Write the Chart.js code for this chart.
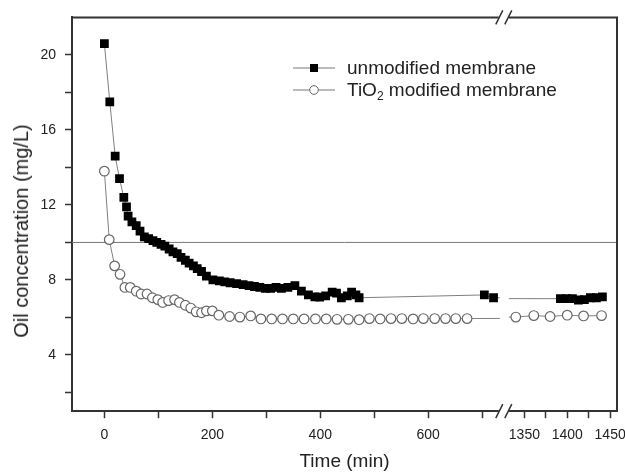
<!DOCTYPE html>
<html>
<head>
<meta charset="utf-8">
<script src="https://cdn.jsdelivr.net/npm/chart.js@4.4.1/dist/chart.umd.min.js"></script>
<style>
  body { margin: 0; background: #fff; }
  #wrap { position: relative; width: 625px; height: 473px; font-family: "Liberation Sans", Arial, sans-serif; }
  #wrap canvas { position: absolute; left: 0; top: 0; }
  #legend { position: absolute; left: 293px; top: 57px; color: #222; font-size: 19px; }
  .row { display: flex; align-items: center; height: 22px; white-space: nowrap; }
  .row svg { margin-right: 12px; flex: none; }
  .row sub { font-size: 12px; vertical-align: -4px; line-height: 0; }
  #ytitle { position: absolute; left: 21px; top: 231px; transform: translate(-50%, -50%) rotate(-90deg);
    font-size: 20px; color: #222; white-space: nowrap; line-height: 1; }
</style>
</head>
<body>
<div id="wrap">
  <canvas id="oilChart" width="625" height="473"></canvas>
  <div id="legend"></div>
  <div id="ytitle"></div>
</div>
<script>
// time (min) and oil concentration (mg/L)
const unmodTime = [0, 10, 20, 28, 36, 41, 44, 51, 59, 66, 74, 82, 90, 97, 105, 112, 120, 127, 135, 142,
  150, 157, 165, 172, 180, 189, 201, 213, 223, 233, 245, 257, 268, 278, 288, 298, 308, 318, 328, 340, 353, 365, 378, 390, 399,
  410, 422, 430, 439, 450, 458, 466, 472, 704, 721, 1392, 1399, 1406, 1413, 1420, 1427, 1434, 1441];
const unmodConc = [20.6, 17.5, 14.6, 13.4, 12.4, 11.9, 11.4, 11.1, 10.9, 10.6, 10.3, 10.2, 10.1, 10.0, 9.9, 9.8, 9.65, 9.5, 9.4, 9.2,
  9.05, 8.9, 8.75, 8.6, 8.45, 8.2, 8.0, 7.95, 7.9, 7.85, 7.8, 7.75, 7.7, 7.65, 7.6, 7.55, 7.55, 7.6, 7.55, 7.6, 7.7, 7.4, 7.2, 7.1, 7.08,
  7.15, 7.35, 7.3, 7.05, 7.15, 7.35, 7.2, 7.05, 7.2, 7.05, 7.0, 7.0, 7.0, 6.93, 6.95, 7.05, 7.05, 7.1];

const tioTime = [0, 9, 19, 29, 38, 48, 59, 68, 79, 89, 99, 108, 119, 130, 139, 150, 160, 170, 180, 189,
  200, 212, 232, 251, 271, 290, 310, 330, 350, 370, 391, 411, 431, 452, 472, 491, 511, 531, 551, 572,
  591, 612, 632, 651, 672, 1340, 1361, 1380, 1400, 1419, 1440];
const tioConc = [13.8, 10.15, 8.75, 8.3, 7.6, 7.6, 7.4, 7.25, 7.25, 7.05, 6.95, 6.8, 6.9, 6.95, 6.8, 6.65, 6.5, 6.3, 6.25, 6.35,
  6.35, 6.12, 6.05, 6.02, 6.08, 5.92, 5.92, 5.92, 5.92, 5.92, 5.92, 5.92, 5.9, 5.9, 5.88, 5.94, 5.92, 5.94, 5.94, 5.92,
  5.94, 5.94, 5.94, 5.94, 5.94, 6.02, 6.1, 6.05, 6.12, 6.08, 6.1];

const seriesNames = ['unmodified membrane', 'TiO<sub>2</sub> modified membrane'];
const xTitle = 'Time (min)';
const yTitle = 'Oil concentration (mg/L)';
const LIMIT = 10; // discharge limit line

// broken x axis: two ranges
const X_LEFT = [-60, 740];
const X_RIGHT = [1326, 1458];
const xLeftTicks = [0, 100, 200, 300, 400, 500, 600, 700];
const xLeftLabels = [0, 200, 400, 600];
const xRightTicks = [1350, 1375, 1400, 1425, 1450];
const xRightLabels = [1350, 1400, 1450];
const yTicks = [2, 4, 6, 8, 10, 12, 14, 16, 18, 20];
const yLabels = [4, 8, 12, 16, 20];

function toPoints(ts, vs) {
  return ts.map((t, i) => ({ x: t, y: vs[i] }));
}

// split a series at the break, each half keeps the neighbour across the break for the connecting line
function split(ts, vs) {
  const pts = toPoints(ts, vs);
  const k = pts.findIndex(p => p.x > X_LEFT[1]);
  return { left: pts.slice(0, k + 1), right: pts.slice(k - 1) };
}

const unmod = split(unmodTime, unmodConc);
const tio = split(tioTime, tioConc);

const squareStyle = {
  borderColor: '#808080', borderWidth: 1, pointStyle: 'rect', pointRadius: 6.2,
  pointBackgroundColor: '#000', pointBorderColor: '#000', pointBorderWidth: 0
};
const circleStyle = {
  borderColor: '#808080', borderWidth: 1, pointStyle: 'circle', pointRadius: 4.8,
  pointBackgroundColor: '#fff', pointBorderColor: '#666', pointBorderWidth: 1.2
};

const gapClip = {
  id: 'gapClip',
  beforeDatasetDraw(chart, args) {
    const ds = chart.data.datasets[args.index];
    const a = chart.chartArea;
    const bx = chart.scales.xL.right;
    const ctx = chart.ctx;
    ctx.save();
    ctx.beginPath();
    if (ds.seg === 'L') ctx.rect(a.left - 10, a.top - 10, bx - 4 - a.left + 10, a.height + 20);
    else ctx.rect(bx + 5, a.top - 10, a.right + 10 - bx - 5, a.height + 20);
    ctx.clip();
  },
  afterDatasetDraw(chart) {
    chart.ctx.restore();
  }
};

const frame = {
  id: 'frame',
  beforeDatasetsDraw(chart) {
    const ctx = chart.ctx, a = chart.chartArea;
    const y = chart.scales.y.getPixelForValue(LIMIT);
    ctx.save();
    ctx.strokeStyle = '#777';
    ctx.lineWidth = 1;
    ctx.beginPath();
    ctx.moveTo(a.left, y);
    ctx.lineTo(a.right, y);
    ctx.stroke();
    ctx.restore();
  },
  afterDraw(chart) {
    const ctx = chart.ctx, a = chart.chartArea;
    const bx = chart.scales.xL.right;
    ctx.save();
    ctx.strokeStyle = '#333';
    ctx.lineWidth = 2;
    ctx.beginPath();
    ctx.moveTo(a.left, a.top);
    ctx.lineTo(a.right, a.top);
    ctx.lineTo(a.right, a.bottom);
    ctx.stroke();
    ctx.lineWidth = 1.5;
    [a.top, a.bottom].forEach(yy => {
      ctx.fillStyle = '#fff';
      ctx.fillRect(bx - 5, yy - 2, 10, 4);
      ctx.beginPath();
      [-4.5, 4.5].forEach(dx => {
        ctx.moveTo(bx + dx - 3.5, yy + 7);
        ctx.lineTo(bx + dx + 3.5, yy - 7);
      });
      ctx.stroke();
    });
    ctx.restore();
  }
};

const tickFont = { family: '"Liberation Sans", Arial, sans-serif', size: 14 };
const axisGrid = { drawOnChartArea: false, tickLength: 7, tickColor: '#333', tickWidth: 1.5 };
const axisBorder = { color: '#333', width: 2 };
const fitX = s => { s.height = 39; s.paddingLeft = 0; s.paddingRight = 0; };

new Chart(document.getElementById('oilChart'), {
  type: 'line',
  data: {
    datasets: [
      { ...squareStyle, seg: 'L', data: unmod.left, xAxisID: 'xL', yAxisID: 'y' },
      { ...squareStyle, seg: 'R', data: unmod.right, xAxisID: 'xR', yAxisID: 'y' },
      { ...circleStyle, seg: 'L', data: tio.left, xAxisID: 'xL', yAxisID: 'y' },
      { ...circleStyle, seg: 'R', data: tio.right, xAxisID: 'xR', yAxisID: 'y' }
    ]
  },
  options: {
    responsive: false,
    animation: false,
    layout: { padding: { top: 16, right: 8, left: 0, bottom: 0 } },
    plugins: {
      legend: { display: false },
      tooltip: { enabled: false },
      title: {
        display: true, position: 'bottom', fullSize: false, text: xTitle, color: '#222',
        font: { family: '"Liberation Sans", Arial, sans-serif', size: 19, weight: 'normal' },
        padding: 0
      }
    },
    scales: {
      xL: {
        type: 'linear', position: 'bottom', stack: 'time', stackWeight: 431,
        min: X_LEFT[0], max: X_LEFT[1],
        afterFit: fitX,
        afterBuildTicks: s => { s.ticks = xLeftTicks.map(v => ({ value: v })); },
        ticks: { autoSkip: false, maxRotation: 0, padding: 9, color: '#222', font: tickFont,
          callback: v => xLeftLabels.includes(v) ? String(v) : '' },
        grid: axisGrid, border: axisBorder
      },
      xR: {
        type: 'linear', position: 'bottom', stack: 'time', stackWeight: 113,
        min: X_RIGHT[0], max: X_RIGHT[1],
        afterFit: fitX,
        afterBuildTicks: s => { s.ticks = xRightTicks.map(v => ({ value: v })); },
        ticks: { autoSkip: false, maxRotation: 0, padding: 9, color: '#222', font: tickFont,
          callback: v => xRightLabels.includes(v) ? String(v) : '' },
        grid: axisGrid, border: axisBorder
      },
      y: {
        type: 'linear', position: 'left', min: 1, max: 22,
        afterFit: s => { s.width = 72; },
        afterBuildTicks: s => { s.ticks = yTicks.map(v => ({ value: v })); },
        ticks: { autoSkip: false, padding: 9, color: '#222', font: tickFont,
          callback: v => yLabels.includes(v) ? String(v) : '' },
        grid: axisGrid, border: axisBorder
      }
    }
  },
  plugins: [gapClip, frame]
});

// legend and y title as html over the plot
const samples = [
  '<svg width="42" height="14"><line x1="0" y1="7" x2="42" y2="7" stroke="#777"/><rect x="17" y="3" width="8" height="8" fill="#000"/></svg>',
  '<svg width="42" height="14"><line x1="0" y1="7" x2="42" y2="7" stroke="#777"/><circle cx="21" cy="7" r="4.3" fill="#fff" stroke="#666"/></svg>'
];
document.getElementById('legend').innerHTML = seriesNames
  .map((n, i) => '<div class="row">' + samples[i] + '<span>' + n + '</span></div>').join('');
document.getElementById('ytitle').textContent = yTitle;
</script>
</body>
</html>
